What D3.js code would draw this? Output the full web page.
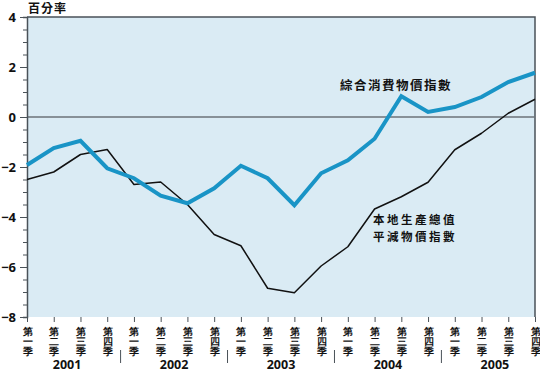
<html>
<head>
<meta charset="utf-8">
<style>
  body { margin: 0; background: #fff; }
  svg { display: block; font-family: "Noto Sans CJK TC", "Noto Sans", sans-serif; }
</style>
</head>
<body>
<div id="chart"></div>
<script src="https://cdnjs.cloudflare.com/ajax/libs/d3/7.8.5/d3.min.js"></script>
<script>
const years = ["2001", "2002", "2003", "2004", "2005"]
const quarterNames = ["一", "二", "三", "四"]
const cpi = [-1.92, -1.24, -0.95, -2.05, -2.45, -3.15, -3.45, -2.85, -1.95, -2.45,
             -3.53, -2.25, -1.73, -0.87, 0.83, 0.2, 0.4, 0.8, 1.4, 1.77]
const gdp = [-2.5, -2.2, -1.5, -1.3, -2.7, -2.6, -3.5, -4.7, -5.15, -6.85,
             -7.03, -5.96, -5.19, -3.68, -3.19, -2.61, -1.31, -0.65, 0.15, 0.71]
const yTicks = [-8, -6, -4, -2, 0, 2, 4]

const W = 540, H = 372
const margin = { top: 17, right: 5, bottom: 55, left: 27 }

const points = []
years.forEach((y, yi) => quarterNames.forEach((q, qi) => points.push({ year: y, q: q, i: yi * 4 + qi })))

const x = d3.scalePoint()
  .domain(points.map(d => d.i))
  .range([margin.left, W - margin.right])

const y = d3.scaleLinear()
  .domain([-8, 4])
  .range([H - margin.bottom, margin.top])

const svg = d3.select("#chart").append("svg")
  .attr("width", W)
  .attr("height", H)

// plot background
svg.append("rect")
  .attr("x", margin.left).attr("y", margin.top)
  .attr("width", W - margin.right - margin.left)
  .attr("height", y(-8) - y(4))
  .attr("fill", "#daebf4")

// top and right border
svg.append("path")
  .attr("d", `M${margin.left},${y(4)}H${W - margin.right}V${y(-8)}`)
  .attr("fill", "none").attr("stroke", "#4a5258").attr("stroke-width", 1.5)

// zero line
svg.append("line")
  .attr("x1", margin.left).attr("x2", W - margin.right)
  .attr("y1", y(0)).attr("y2", y(0))
  .attr("stroke", "#6b7278").attr("stroke-width", 1.5)

// y axis: minor ticks
svg.append("g")
  .attr("transform", `translate(${margin.left},0)`)
  .call(d3.axisLeft(y).tickValues(d3.range(-8, 4.01, 0.5)).tickSize(4).tickFormat(""))
  .call(g => g.select(".domain").attr("stroke", "#4a5258").attr("stroke-width", 1.5))
  .call(g => g.selectAll(".tick line").attr("stroke", "#4a5258"))

// y axis: major ticks + labels
svg.append("g")
  .attr("transform", `translate(${margin.left},0)`)
  .call(d3.axisLeft(y).tickValues(yTicks).tickSize(7).tickPadding(4).tickFormat(d3.format("d")))
  .call(g => g.select(".domain").remove())
  .call(g => g.selectAll(".tick line").attr("stroke", "#4a5258"))
  .call(g => g.selectAll(".tick text")
    .attr("font-size", 13).attr("font-weight", "bold").attr("fill", "#111")
    .attr("font-family", "'Open Sans', 'DejaVu Sans', sans-serif"))

svg.append("text")
  .attr("x", 28).attr("y", 13)
  .attr("font-size", 12).attr("font-weight", "bold").attr("fill", "#111")
  .attr("letter-spacing", 1)
  .text("百分率")

// x axis
const xAxis = svg.append("g")
  .attr("transform", `translate(0,${y(-8)})`)
  .call(d3.axisBottom(x).tickSize(5).tickFormat(""))
  .call(g => g.select(".domain").remove())
  .call(g => g.selectAll(".tick line").attr("stroke", "#4a5258"))

xAxis.selectAll(".tick")
  .data(points)
  .selectAll("text.q")
  .data(d => ["第", d.q, "季"])
  .join("text")
  .attr("class", "q")
  .attr("fill", "#111")
  .attr("font-size", 9.5)
  .attr("font-weight", "bold")
  .attr("text-anchor", "middle")
  .attr("x", 0)
  .attr("y", (d, i) => 18 + i * 10)
  .text(d => d)

// year separators and labels
const step = x.step()
years.forEach((yr, yi) => {
  const x0 = x(yi * 4), x1 = x(yi * 4 + 3)
  svg.append("text")
    .attr("x", (x0 + x1) / 2).attr("y", y(-8) + 52)
    .attr("text-anchor", "middle")
    .attr("font-size", 12.5).attr("font-weight", "bold").attr("fill", "#111")
    .attr("font-family", "'Open Sans', 'DejaVu Sans', sans-serif")
    .text(yr)
  if (yi > 0) {
    svg.append("line")
      .attr("x1", x0 - step / 2).attr("x2", x0 - step / 2)
      .attr("y1", y(-8) + 33).attr("y2", y(-8) + 46)
      .attr("stroke", "#4a5258").attr("stroke-width", 1)
  }
})

// lines
const line = d3.line()
  .x((d, i) => x(i))
  .y(d => y(d))

svg.append("path")
  .datum(gdp)
  .attr("d", line)
  .attr("fill", "none")
  .attr("stroke", "#111")
  .attr("stroke-width", 1.5)
  .attr("stroke-linejoin", "round")

svg.append("path")
  .datum(cpi)
  .attr("d", line)
  .attr("fill", "none")
  .attr("stroke", "#1994c6")
  .attr("stroke-width", 4)
  .attr("stroke-linejoin", "miter")

// series labels
svg.append("text")
  .attr("x", 340).attr("y", 90)
  .attr("font-size", 12.5).attr("font-weight", "bold").attr("fill", "#111")
  .attr("letter-spacing", 1.5)
  .text("綜合消費物價指數")

svg.selectAll("text.gdp")
  .data(["本地生產總值", "平減物價指數"])
  .join("text")
  .attr("class", "gdp")
  .attr("font-size", 11.5).attr("font-weight", "bold").attr("fill", "#111")
  .attr("letter-spacing", 2.5)
  .attr("x", 373)
  .attr("y", (d, i) => 224 + i * 16.5)
  .text(d => d)
</script>
</body>
</html>
